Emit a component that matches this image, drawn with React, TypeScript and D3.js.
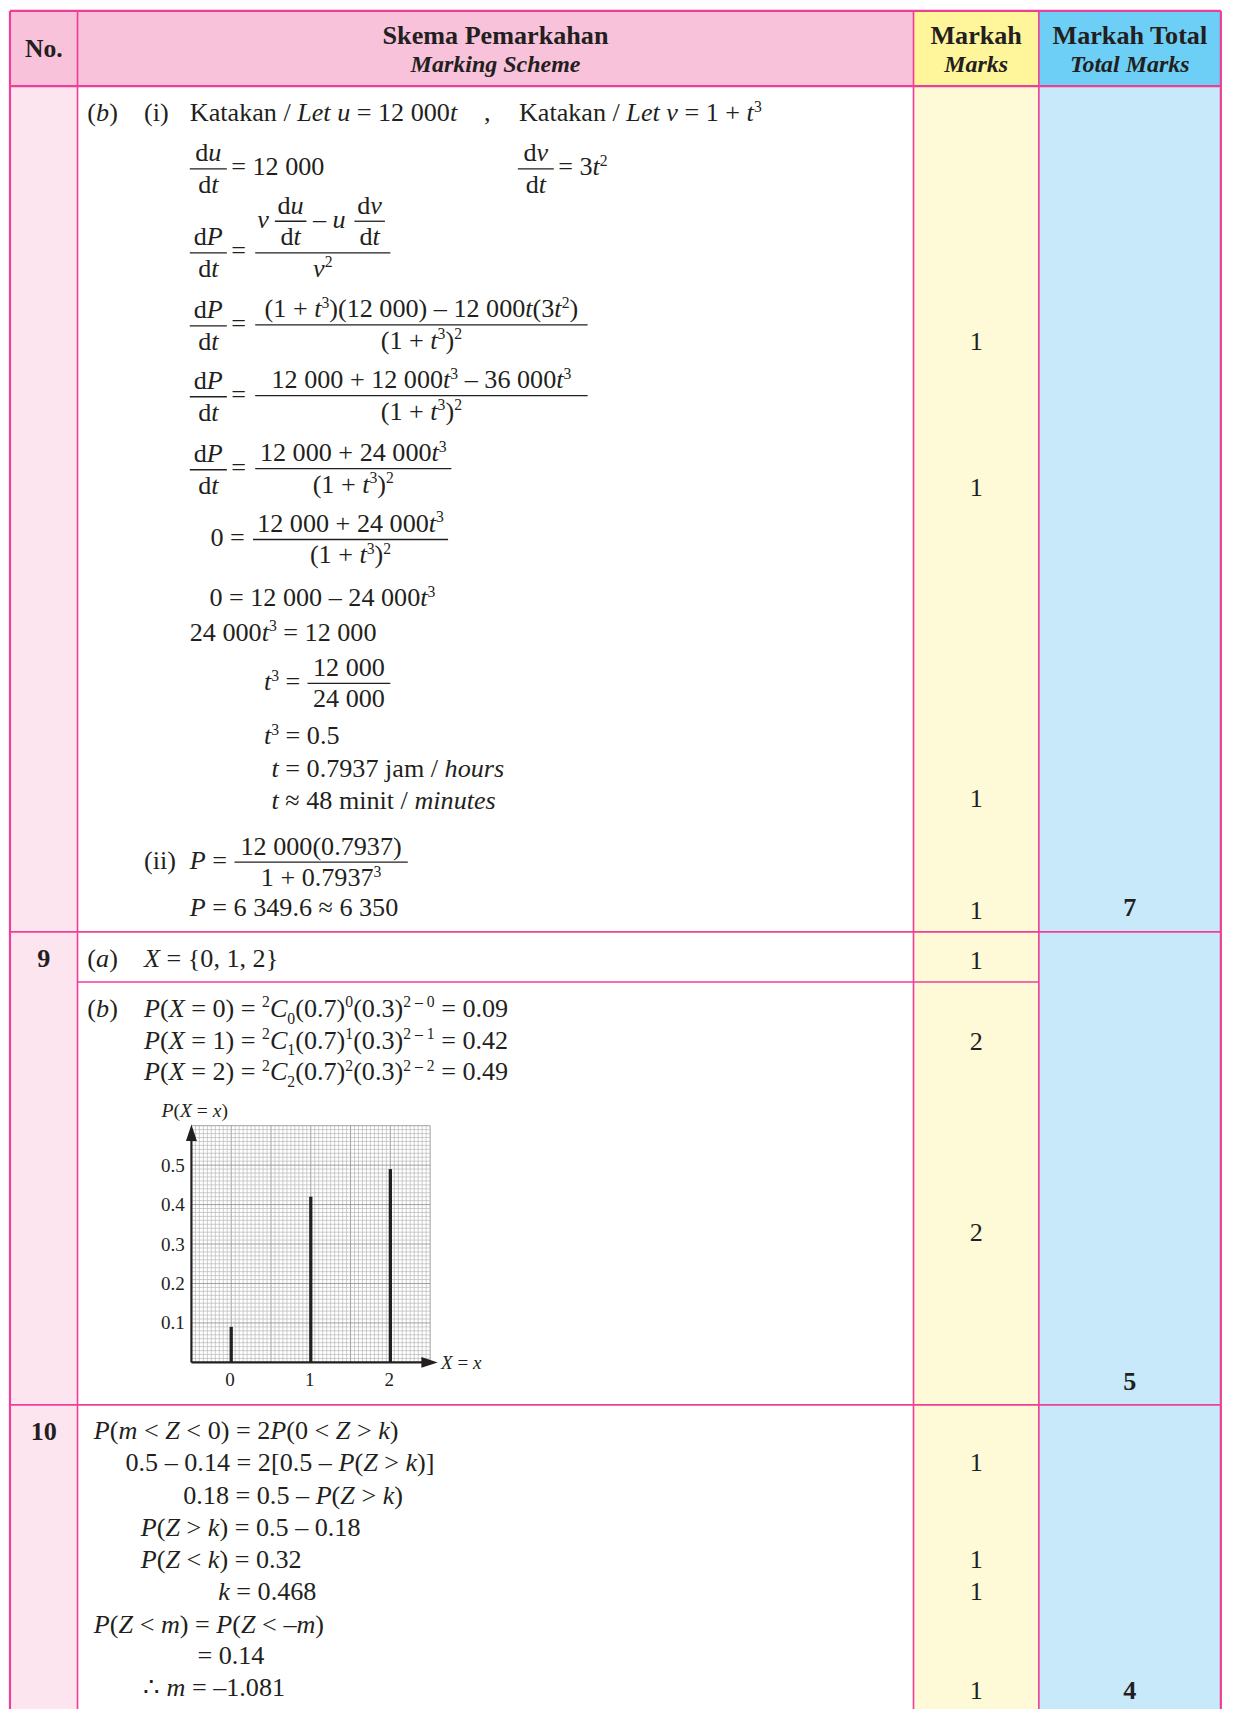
import React from "react";
import * as d3 from "d3";

// ---------- chart data (question 9b) ----------
const xValues = [0, 1, 2];
const probabilities = [0.09, 0.42, 0.49];
const yTicks = [0.1, 0.2, 0.3, 0.4, 0.5];
const xTickLabels = ["0", "1", "2"];

// ---------- table content ----------
const headerNo = "No.";
const headerScheme = ["Skema Pemarkahan", "Marking Scheme"];
const headerMarks = ["Markah", "Marks"];
const headerTotal = ["Markah Total", "Total Marks"];

const FONT = "'Liberation Serif', 'Times New Roman', Times, serif";
const INK = "#231f20";
const BORDER = "#ee3f98";
const FS = 24;

type Tok = { t: string; it: boolean; sh: number };
function parse(s: string): Tok[] {
  const out: Tok[] = [];
  let it = false;
  let sh = 0;
  let buf = "";
  const flush = () => {
    if (buf) {
      out.push({ t: buf, it, sh });
      buf = "";
    }
  };
  for (let i = 0; i < s.length; i++) {
    const c = s[i];
    if (c === "*") {
      flush();
      it = !it;
      continue;
    }
    if ((c === "^" || c === "_") && s[i + 1] === "{") {
      flush();
      sh = c === "^" ? 1 : -1;
      i++;
      continue;
    }
    if (c === "}" && sh !== 0) {
      flush();
      sh = 0;
      continue;
    }
    buf += c;
  }
  flush();
  return out;
}

function Rich({
  x,
  y,
  s,
  size = FS,
  anchor = "start",
  bold = false,
}: {
  x: number;
  y: number;
  s: string;
  size?: number;
  anchor?: string;
  bold?: boolean;
}) {
  const toks = parse(s);
  let cur = 0;
  return (
    <text
      x={x}
      y={y}
      fontSize={size}
      textAnchor={anchor as any}
      fontWeight={bold ? "bold" : "normal"}
      fill={INK}
      style={{ whiteSpace: "pre" }}
    >
      {toks.map((k, i) => {
        const target = k.sh === 1 ? -size * 0.36 : k.sh === -1 ? size * 0.26 : 0;
        const dy = target - cur;
        cur = target;
        return (
          <tspan
            key={i}
            dy={dy}
            fontStyle={k.it ? "italic" : "normal"}
            fontSize={k.sh ? size * 0.6 : size}
          >
            {k.t}
          </tspan>
        );
      })}
    </text>
  );
}

function Frac({
  x1,
  x2,
  y,
  num,
  den,
  size = FS,
}: {
  x1: number;
  x2: number;
  y: number;
  num: string;
  den: string;
  size?: number;
}) {
  const cx = (x1 + x2) / 2;
  return (
    <g>
      <line x1={x1} x2={x2} y1={y} y2={y} stroke={INK} strokeWidth={1.2} />
      <Rich x={cx} y={y - 7} s={num} anchor="middle" size={size} />
      <Rich x={cx} y={y + 22} s={den} anchor="middle" size={size} />
    </g>
  );
}

// plain lines of working: [x, baseline, text]
const row8Lines: [number, number, string][] = [
  [80, 111, "(*b*)"],
  [132, 111, "(i)"],
  [174, 111, "Katakan / *Let u* = 12 000*t*"],
  [444, 111, ","],
  [476, 111, "Katakan / *Let v* = 1 + *t*^{3}"],
  [212, 161, "= 12 000"],
  [512, 161, "= 3*t*^{2}"],
  [212, 238, "="],
  [212, 305, "="],
  [212, 370, "="],
  [212, 437, "="],
  [193, 501, "0 ="],
  [192, 556, "0 = 12 000 – 24 000*t*^{3}"],
  [174, 588, "24 000*t*^{3} = 12 000"],
  [242, 633, "*t*^{3} ="],
  [242, 683, "*t*^{3} = 0.5"],
  [249, 713, "*t* = 0.7937 jam / *hours*"],
  [249, 742, "*t* ≈ 48 minit / *minutes*"],
  [132, 797, "(ii)"],
  [174, 797, "*P* ="],
  [174, 840, "*P* = 6 349.6 ≈ 6 350"],
];

// fractions: [x1, x2, barY, numerator, denominator]
const row8Fracs: [number, number, number, string, string][] = [
  [174, 208, 155, "d*u*", "d*t*"],
  [475, 508, 155, "d*v*", "d*t*"],
  [174, 208, 232, "d*P*", "d*t*"],
  [252, 281, 203, "d*u*", "d*t*"],
  [325, 353, 203, "d*v*", "d*t*"],
  [174, 208, 299, "d*P*", "d*t*"],
  [234, 539, 298, "(1 + *t*^{3})(12 000) – 12 000*t*(3*t*^{2})", "(1 + *t*^{3})^{2}"],
  [174, 208, 364, "d*P*", "d*t*"],
  [234, 539, 363, "12 000 + 12 000*t*^{3} – 36 000*t*^{3}", "(1 + *t*^{3})^{2}"],
  [174, 208, 431, "d*P*", "d*t*"],
  [234, 414, 430, "12 000 + 24 000*t*^{3}", "(1 + *t*^{3})^{2}"],
  [232, 411, 495, "12 000 + 24 000*t*^{3}", "(1 + *t*^{3})^{2}"],
  [282, 358, 627, "12 000", "24 000"],
  [215, 374, 791, "12 000(0.7937)", "1 + 0.7937^{3}"],
];

const row9Lines: [number, number, string][] = [
  [80, 887, "(*a*)"],
  [132, 887, "*X* = {0, 1, 2}"],
  [80, 933, "(*b*)"],
  [132, 933, "*P*(*X* = 0) = ^{2}*C*_{0}(0.7)^{0}(0.3)^{2 – 0} = 0.09"],
  [132, 962, "*P*(*X* = 1) = ^{2}*C*_{1}(0.7)^{1}(0.3)^{2 – 1} = 0.42"],
  [132, 991, "*P*(*X* = 2) = ^{2}*C*_{2}(0.7)^{2}(0.3)^{2 – 2} = 0.49"],
];

const row10Lines: [number, number, string][] = [
  [86, 1320, "*P*(*m* < *Z* < 0) = 2*P*(0 < *Z* > *k*)"],
  [115, 1350, "0.5 – 0.14 = 2[0.5 – *P*(*Z* > *k*)]"],
  [168, 1380, "0.18 = 0.5 – *P*(*Z* > *k*)"],
  [129, 1409, "*P*(*Z* > *k*) = 0.5 – 0.18"],
  [129, 1439, "*P*(*Z* < *k*) = 0.32"],
  [200, 1468, "*k* = 0.468"],
  [86, 1498, "*P*(*Z* < *m*) = *P*(*Z* < –*m*)"],
  [181, 1527, "= 0.14"],
  [131, 1556, "∴ *m* = –1.081"],
];

const marks: [string, number][] = [
  ["1", 321],
  ["1", 455],
  ["1", 740],
  ["1", 843],
  ["1", 889],
  ["2", 963],
  ["2", 1139],
  ["1", 1350],
  ["1", 1439],
  ["1", 1468],
  ["1", 1559],
];
const totals: [string, number][] = [
  ["7", 840],
  ["5", 1275],
  ["4", 1559],
];
const questionNos: [string, number][] = [
  ["9", 887],
  ["10", 1321],
];

// table geometry (view units)
const W = 1131;
const H = 1568;
const colX = [9, 71, 838, 953, 1120];
const top = 10;
const headBottom = 79;
const rowBounds = [855, 1289];
const subDivider = 901;

function Chart() {
  const x = d3.scaleLinear().domain([0, 2]).range([212, 358]);
  const y = d3.scaleLinear().domain([0, 0.5]).range([1250, 1069]);
  const gx0 = -0.5,
    gx1 = 2.5,
    gy1 = 0.6;
  const vLines = d3.range(0, 61).map((i) => gx0 + i * 0.05);
  const hLines = d3.range(0, 61).map((i) => i * 0.01);
  const ax = x(gx0);
  const ay = y(0);
  return (
    <g>
      <rect x={x(gx0)} y={y(gy1)} width={x(gx1) - x(gx0)} height={y(0) - y(gy1)} fill="#fff" />
      {vLines.map((v, i) => (
        <line
          key={"v" + i}
          x1={x(v)}
          x2={x(v)}
          y1={y(0)}
          y2={y(gy1)}
          stroke={i % 10 === 0 ? "#939393" : "#b3b3b3"}
          strokeWidth={i % 10 === 0 ? 0.8 : 0.6}
        />
      ))}
      {hLines.map((v, i) => (
        <line
          key={"h" + i}
          x1={x(gx0)}
          x2={x(gx1)}
          y1={y(v)}
          y2={y(v)}
          stroke={i % 10 === 0 ? "#939393" : "#b3b3b3"}
          strokeWidth={i % 10 === 0 ? 0.8 : 0.6}
        />
      ))}
      {/* bars */}
      {xValues.map((xv, i) => (
        <line
          key={"b" + i}
          x1={x(xv)}
          x2={x(xv)}
          y1={y(0)}
          y2={y(probabilities[i])}
          stroke={INK}
          strokeWidth={3}
        />
      ))}
      {/* axes */}
      <line x1={ax} x2={ax} y1={ay} y2={y(gy1) + 10} stroke={INK} strokeWidth={2} />
      <path d={`M${ax},${y(gy1) - 1} L${ax - 5},${y(gy1) + 14} L${ax + 5},${y(gy1) + 14} Z`} fill={INK} />
      <line x1={ax} x2={x(gx1) - 2} y1={ay} y2={ay} stroke={INK} strokeWidth={2} />
      <path d={`M${x(gx1) + 7},${ay} L${x(gx1) - 8},${ay - 5} L${x(gx1) - 8},${ay + 5} Z`} fill={INK} />
      {yTicks.map((t) => (
        <Rich key={"yt" + t} x={ax - 6} y={y(t) + 6} s={String(t)} size={17.5} anchor="end" />
      ))}
      {xValues.map((xv, i) => (
        <Rich key={"xt" + i} x={x(xv) - 1} y={ay + 22} s={xTickLabels[i]} size={17.5} anchor="middle" />
      ))}
      <Rich x={x(gx1) + 10} y={ay + 6} s="*X* = *x*" size={17.5} />
      <Rich x={148} y={1025} s="*P*(*X* = *x*)" size={18} />
    </g>
  );
}

export default function App() {
  const bodyTop = headBottom;
  return (
    <div>
      <style>{`body{margin:0;background:#fff}`}</style>
      <svg
        width={1233}
        height={1709}
        viewBox={`0 0 ${W} ${H}`}
        style={{ display: "block", fontFamily: FONT }}
      >
        <rect x={0} y={0} width={W} height={H} fill="#fff" />
        {/* header fills */}
        <rect x={colX[0]} y={top} width={colX[2] - colX[0]} height={headBottom - top} fill="#f7c2da" />
        <rect x={colX[2]} y={top} width={colX[3] - colX[2]} height={headBottom - top} fill="#fff59b" />
        <rect x={colX[3]} y={top} width={colX[4] - colX[3]} height={headBottom - top} fill="#6dcff6" />
        {/* body fills */}
        <rect x={colX[0]} y={bodyTop} width={colX[1] - colX[0]} height={H - bodyTop} fill="#fde5f0" />
        <rect x={colX[2]} y={bodyTop} width={colX[3] - colX[2]} height={H - bodyTop} fill="#fef9d6" />
        <rect x={colX[3]} y={bodyTop} width={colX[4] - colX[3]} height={H - bodyTop} fill="#c7e9f9" />

        {/* borders */}
        <line x1={colX[0]} x2={colX[4]} y1={top} y2={top} stroke={BORDER} strokeWidth={2} />
        <line x1={colX[0]} x2={colX[4]} y1={headBottom} y2={headBottom} stroke={BORDER} strokeWidth={2.2} />
        {rowBounds.map((b) => (
          <line key={b} x1={colX[0]} x2={colX[4]} y1={b} y2={b} stroke={BORDER} strokeWidth={1.5} />
        ))}
        <line x1={colX[1]} x2={colX[3]} y1={subDivider} y2={subDivider} stroke={BORDER} strokeWidth={1.5} />
        {colX.map((cx, i) => (
          <line
            key={"c" + i}
            x1={cx}
            x2={cx}
            y1={top}
            y2={H}
            stroke={BORDER}
            strokeWidth={i === 0 || i === 4 ? 2 : 1.5}
          />
        ))}

        {/* header text */}
        <Rich x={(colX[0] + colX[1]) / 2} y={52} s={headerNo} bold anchor="middle" size={23.5} />
        <Rich x={(colX[1] + colX[2]) / 2} y={40} s={headerScheme[0]} bold anchor="middle" size={24} />
        <Rich x={(colX[1] + colX[2]) / 2} y={66} s={"*" + headerScheme[1] + "*"} bold anchor="middle" size={22} />
        <Rich x={(colX[2] + colX[3]) / 2} y={40} s={headerMarks[0]} bold anchor="middle" size={24} />
        <Rich x={(colX[2] + colX[3]) / 2} y={66} s={"*" + headerMarks[1] + "*"} bold anchor="middle" size={22} />
        <Rich x={(colX[3] + colX[4]) / 2} y={40} s={headerTotal[0]} bold anchor="middle" size={24} />
        <Rich x={(colX[3] + colX[4]) / 2} y={66} s={"*" + headerTotal[1] + "*"} bold anchor="middle" size={22} />

        {/* question numbers */}
        {questionNos.map(([t, yy]) => (
          <Rich key={"q" + t} x={(colX[0] + colX[1]) / 2} y={yy} s={t} bold anchor="middle" />
        ))}

        {/* working */}
        {[...row8Lines, ...row9Lines, ...row10Lines].map(([xx, yy, s], i) => (
          <Rich key={"l" + i} x={xx} y={yy} s={s} />
        ))}
        {row8Fracs.map(([a, b, yy, n, d], i) => (
          <Frac key={"f" + i} x1={a} x2={b} y={yy} num={n} den={d} />
        ))}
        {/* compound numerator of quotient rule */}
        <Rich x={236} y={209} s="*v*" />
        <Rich x={287} y={209} s="– *u*" />
        <line x1={234} x2={358} y1={232} y2={232} stroke={INK} strokeWidth={1.2} />
        <Rich x={296} y={254} s="*v*^{2}" anchor="middle" />

        {/* marks */}
        {marks.map(([t, yy], i) => (
          <Rich key={"m" + i} x={(colX[2] + colX[3]) / 2} y={yy} s={t} anchor="middle" />
        ))}
        {totals.map(([t, yy], i) => (
          <Rich key={"t" + i} x={(colX[3] + colX[4]) / 2} y={yy} s={t} bold anchor="middle" />
        ))}

        <Chart />
      </svg>
    </div>
  );
}
